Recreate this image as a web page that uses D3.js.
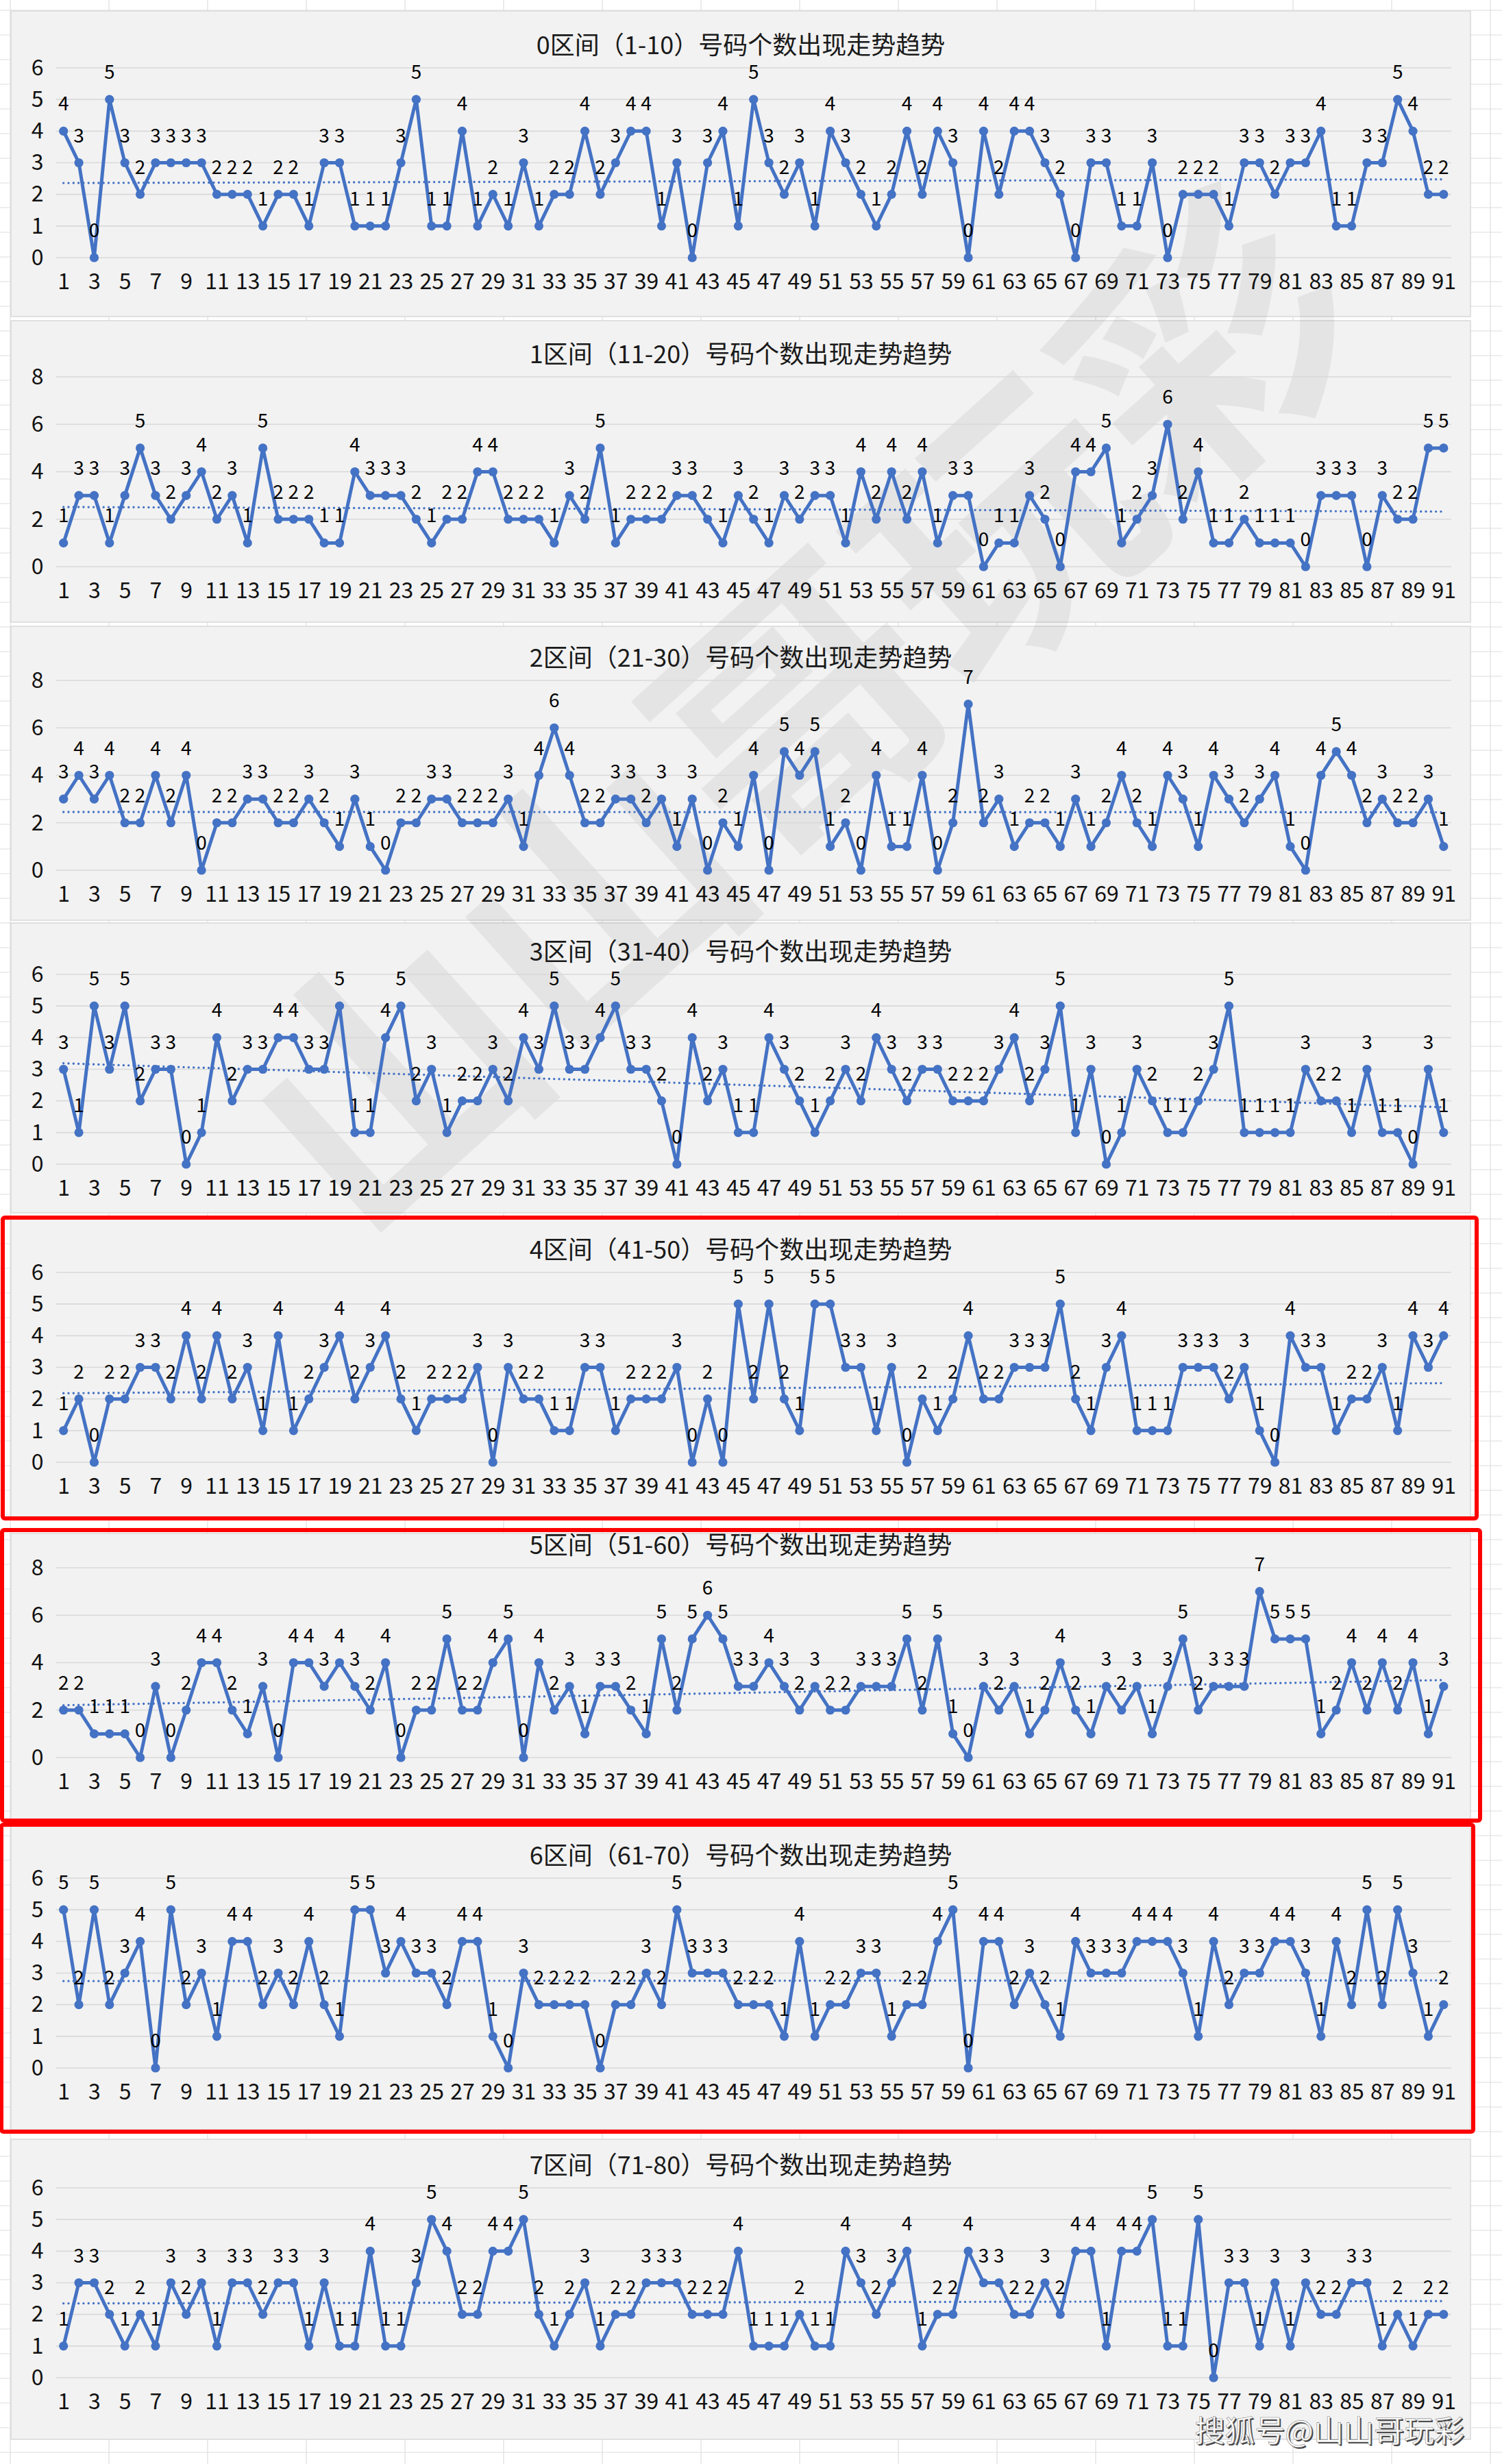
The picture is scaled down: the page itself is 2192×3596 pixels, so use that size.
<!DOCTYPE html>
<html>
<head>
<meta charset="utf-8">
<script src="https://cdn.jsdelivr.net/npm/d3@7"></script>
<style>
  html, body { margin: 0; padding: 0; background: #ffffff; }
  svg { display: block; }
  text { font-family: "Noto Sans CJK SC", "Noto Sans", sans-serif; }
</style>
</head>
<body>
<script>
// ---------------- DATA ----------------
const categories = d3.range(1, 92);           // draw numbers 1..91
const xTickValues = categories.filter(d => d % 2 === 1);

const titles = [
  "0区间（1-10）号码个数出现走势趋势",
  "1区间（11-20）号码个数出现走势趋势",
  "2区间（21-30）号码个数出现走势趋势",
  "3区间（31-40）号码个数出现走势趋势",
  "4区间（41-50）号码个数出现走势趋势",
  "5区间（51-60）号码个数出现走势趋势",
  "6区间（61-70）号码个数出现走势趋势",
  "7区间（71-80）号码个数出现走势趋势"
];

const ticks6 = [0, 1, 2, 3, 4, 5, 6];
const ticks8 = [0, 2, 4, 6, 8];
const yMaxes = [6, 8, 8, 6, 6, 8, 6, 6];
const yTickSets = [ticks6, ticks8, ticks8, ticks6, ticks6, ticks8, ticks6, ticks6];

const zone0 = [4,3,0,5,3,2,3,3,3,3, 2,2,2,1,2,2,1,3,3,1, 1,1,3,5,1,1,4,1,2,1, 3,1,2,2,4,2,3,4,4,1,
               3,0,3,4,1,5,3,2,3,1, 4,3,2,1,2,4,2,4,3,0, 4,2,4,4,3,2,0,3,3,1, 1,3,0,2,2,2,1,3,3,2,
               3,3,4,1,1,3,3,5,4,2, 2];
const zone1 = [1,3,3,1,3,5,3,2,3,4, 2,3,1,5,2,2,2,1,1,4, 3,3,3,2,1,2,2,4,4,2, 2,2,1,3,2,5,1,2,2,2,
               3,3,2,1,3,2,1,3,2,3, 3,1,4,2,4,2,4,1,3,3, 0,1,1,3,2,0,4,4,5,1, 2,3,6,2,4,1,1,2,1,1,
               1,0,3,3,3,0,3,2,2,5, 5];
const zone2 = [3,4,3,4,2,2,4,2,4,0, 2,2,3,3,2,2,3,2,1,3, 1,0,2,2,3,3,2,2,2,3, 1,4,6,4,2,2,3,3,2,3,
               1,3,0,2,1,4,0,5,4,5, 1,2,0,4,1,1,4,0,2,7, 2,3,1,2,2,1,3,1,2,4, 2,1,4,3,1,4,3,2,3,4,
               1,0,4,5,4,2,3,2,2,3, 1];
const zone3 = [3,1,5,3,5,2,3,3,0,1, 4,2,3,3,4,4,3,3,5,1, 1,4,5,2,3,1,2,2,3,2, 4,3,5,3,3,4,5,3,3,2,
               0,4,2,3,1,1,4,3,2,1, 2,3,2,4,3,2,3,3,2,2, 2,3,4,2,3,5,1,3,0,1, 3,2,1,1,2,3,5,1,1,1,
               1,3,2,2,1,3,1,1,0,3, 1];
const zone4 = [1,2,0,2,2,3,3,2,4,2, 4,2,3,1,4,1,2,3,4,2, 3,4,2,1,2,2,2,3,0,3, 2,2,1,1,3,3,1,2,2,2,
               3,0,2,0,5,2,5,2,1,5, 5,3,3,1,3,0,2,1,2,4, 2,2,3,3,3,5,2,1,3,4, 1,1,1,3,3,3,2,3,1,0,
               4,3,3,1,2,2,3,1,4,3, 4];
const zone5 = [2,2,1,1,1,0,3,0,2,4, 4,2,1,3,0,4,4,3,4,3, 2,4,0,2,2,5,2,2,4,5, 0,4,2,3,1,3,3,2,1,5,
               2,5,6,5,3,3,4,3,2,3, 2,2,3,3,3,5,2,5,1,0, 3,2,3,1,2,4,2,1,3,2, 3,1,3,5,2,3,3,3,7,5,
               5,5,1,2,4,2,4,2,4,1, 3];
const zone6 = [5,2,5,2,3,4,0,5,2,3, 1,4,4,2,3,2,4,2,1,5, 5,3,4,3,3,2,4,4,1,0, 3,2,2,2,2,0,2,2,3,2,
               5,3,3,3,2,2,2,1,4,1, 2,2,3,3,1,2,2,4,5,0, 4,4,2,3,2,1,4,3,3,3, 4,4,4,3,1,4,2,3,3,4,
               4,3,1,4,2,5,2,5,3,1, 2];
const zone7 = [1,3,3,2,1,2,1,3,2,3, 1,3,3,2,3,3,1,3,1,1, 4,1,1,3,5,4,2,2,4,4, 5,2,1,2,3,1,2,2,3,3,
               3,2,2,2,4,1,1,1,2,1, 1,4,3,2,3,4,1,2,2,4, 3,3,2,2,3,2,4,4,1,4, 4,5,1,1,5,0,3,3,1,3,
               1,3,2,2,3,3,1,2,1,2, 2];
const series = [zone0, zone1, zone2, zone3, zone4, zone5, zone6, zone7];

const watermarkText = "山山哥玩彩";
const sohuText = "搜狐号@山山哥玩彩";

// ---------------- LAYOUT ----------------
const W = 2192, H = 3596;
const plotLeft = 81.5, plotRight = 2118, plotH = 277;
const gridTops = [99, 550, 993, 1422, 1857, 2288, 2741, 3193];
const boxTops = [16, 468, 914, 1347, 1779, 2238, 2664, 3122];
const boxBottoms = [462, 908, 1343, 1770, 2215, 2655, 3108, 3560];
const boxLeft = 16, boxRight = 2146;
const redFrames = [
  {x0: 4, y0: 1777, x1: 2155, y1: 2216},
  {x0: 3, y0: 2233, x1: 2160, y1: 2657},
  {x0: 2, y0: 2663, x1: 2150, y1: 3111}
];
const blue = "#4472C4";

const svg = d3.select("body").append("svg")
  .attr("width", W).attr("height", H)
  .attr("viewBox", `0 0 ${W} ${H}`);

svg.append("rect").attr("width", W).attr("height", H).attr("fill", "#ffffff");

// spreadsheet cell grid
const sheet = svg.append("g").attr("stroke", "#dedede").attr("stroke-width", 1.2);
for (let xx = 15; xx <= W; xx += 144) {
  sheet.append("line").attr("x1", xx).attr("x2", xx).attr("y1", 0).attr("y2", H);
}
for (let yy = 15; yy <= H; yy += 36) {
  sheet.append("line").attr("x1", 0).attr("x2", W).attr("y1", yy).attr("y2", yy);
}

// chart boxes
boxTops.forEach((t, i) => {
  svg.append("rect")
    .attr("x", boxLeft).attr("y", t)
    .attr("width", boxRight - boxLeft).attr("height", boxBottoms[i] - t)
    .attr("fill", "#f2f2f2").attr("stroke", "#d9d9d9").attr("stroke-width", 1.5);
});

// big faint watermark
svg.append("text")
  .attr("transform", "translate(1150,1020) rotate(-42)")
  .attr("text-anchor", "middle")
  .attr("dominant-baseline", "central")
  .attr("font-size", 400)
  .attr("font-weight", 700)
  .attr("fill", "#000")
  .attr("fill-opacity", 0.055)
  .text(watermarkText);

// ---------------- PANELS ----------------
series.forEach((vals, p) => {
  const gTop = gridTops[p], gBot = gTop + plotH;
  const x = d3.scalePoint().domain(categories).range([plotLeft, plotRight]).padding(0.5);
  const y = d3.scaleLinear().domain([0, yMaxes[p]]).range([gBot, gTop]);
  const g = svg.append("g");

  // gridlines
  g.append("g").selectAll("line").data(yTickSets[p]).join("line")
    .attr("x1", plotLeft).attr("x2", plotRight)
    .attr("y1", d => y(d)).attr("y2", d => y(d))
    .attr("stroke", "#d9d9d9").attr("stroke-width", 1.6);

  // y axis
  const ya = g.append("g").attr("transform", `translate(${plotLeft},0)`)
    .call(d3.axisLeft(y).tickValues(yTickSets[p]).tickSize(0).tickPadding(18).tickFormat(d3.format("d")));
  ya.select(".domain").remove();
  ya.selectAll("text").attr("font-size", 32).attr("fill", "#111")
    .attr("font-family", '"Noto Sans CJK SC", "Noto Sans", sans-serif');

  // x axis
  const xa = g.append("g").attr("transform", `translate(0,${gBot})`)
    .call(d3.axisBottom(x).tickValues(xTickValues).tickSize(0).tickPadding(23));
  xa.select(".domain").remove();
  xa.selectAll("text").attr("font-size", 32).attr("fill", "#111")
    .attr("font-family", '"Noto Sans CJK SC", "Noto Sans", sans-serif');

  // title
  g.append("text")
    .attr("x", (boxLeft + boxRight) / 2).attr("y", gTop - 20)
    .attr("text-anchor", "middle")
    .attr("font-size", 36).attr("fill", "#1a1a1a")
    .text(titles[p]);

  // linear trendline (least squares)
  const n = vals.length;
  const mx = d3.mean(categories), my = d3.mean(vals);
  let sxy = 0, sxx = 0;
  categories.forEach((c, i) => { sxy += (c - mx) * (vals[i] - my); sxx += (c - mx) * (c - mx); });
  const slope = sxy / sxx, icpt = my - slope * mx;
  const c0 = categories[0], c1 = categories[n - 1];
  g.append("line")
    .attr("x1", x(c0)).attr("y1", y(icpt + slope * c0))
    .attr("x2", x(c1)).attr("y2", y(icpt + slope * c1))
    .attr("stroke", blue).attr("stroke-width", 3.4)
    .attr("stroke-dasharray", "0.01 7.3").attr("stroke-linecap", "round");

  // series line
  const line = d3.line().x((d, i) => x(categories[i])).y(d => y(d));
  g.append("path").datum(vals)
    .attr("d", line).attr("fill", "none")
    .attr("stroke", blue).attr("stroke-width", 5)
    .attr("stroke-linejoin", "round");

  // markers
  g.append("g").selectAll("circle").data(vals).join("circle")
    .attr("cx", (d, i) => x(categories[i])).attr("cy", d => y(d))
    .attr("r", 6.6).attr("fill", blue);

  // data labels
  g.append("g").selectAll("text").data(vals).join("text")
    .attr("x", (d, i) => x(categories[i])).attr("y", d => y(d) - 30)
    .attr("text-anchor", "middle")
    .attr("font-size", 28).attr("fill", "#000")
    .text(d => d);
});

// red highlight frames
svg.append("g").selectAll("rect").data(redFrames).join("rect")
  .attr("x", d => d.x0).attr("y", d => d.y0)
  .attr("width", d => d.x1 - d.x0).attr("height", d => d.y1 - d.y0)
  .attr("rx", 3)
  .attr("fill", "none").attr("stroke", "#ff0000").attr("stroke-width", 6);

// sohu watermark text
svg.append("text")
  .attr("x", 2139).attr("y", 3566)
  .attr("text-anchor", "end").attr("font-size", 44)
  .attr("fill", "#444").text(sohuText);
svg.append("text")
  .attr("x", 2137).attr("y", 3564)
  .attr("text-anchor", "end").attr("font-size", 44)
  .attr("fill", "#ffffff").attr("stroke", "#888").attr("stroke-width", 0.6)
  .text(sohuText);
</script>
</body>
</html>
